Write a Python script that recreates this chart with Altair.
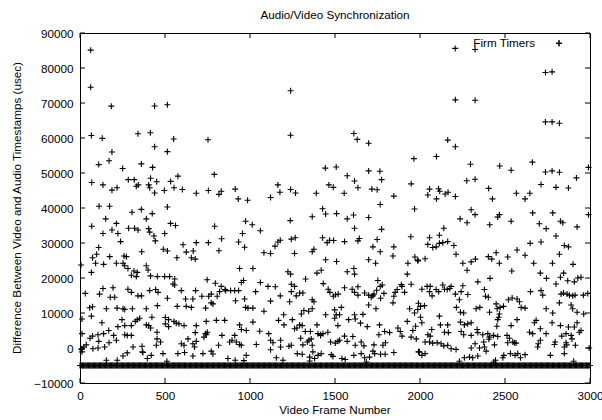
import altair as alt
import pandas as pd

# ---------------- data ----------------
# scattered points, frame 0-1000
frames_1 = [63, 63, 184, 439, 514, 67, 131, 341, 414, 551, 753, 439, 188, 514, 110, 171, 251, 361, 427, 790,
            69, 135, 188, 218, 284, 319, 331, 343, 404, 410, 415, 439, 451, 496, 533, 553, 576, 602, 684, 755,
            817, 831, 913, 931,
            112, 174, 306, 514, 361, 390, 425, 151, 986, 69, 214, 188, 223, 135, 286, 321, 341, 404, 410, 435,
            443, 498, 533, 562, 792, 974, 956, 239, 110, 606, 684, 755, 833, 817, 933, 968, 666, 625, 490, 514,
            363, 74, 98, 175, 259, 273, 570, 655, 678, 6, 67, 92, 139, 214, 253, 282, 263, 302, 317, 337, 331,
            390, 400, 415, 455, 498, 527, 557, 547, 557, 939, 748, 796, 831, 853, 886, 910, 933, 949, 962, 31,
            135, 115, 194, 204, 178, 282, 302, 341, 361, 410, 445, 459, 596, 680, 621, 664, 717, 757, 772, 782,
            807, 821, 857, 915, 968, 74, 57, 67, 155, 218, 253, 263, 308, 390, 514, 455, 572, 625, 655, 739,
            772, 988, 974, 12, 129, 247, 325, 337, 351, 423, 404, 390, 415, 223, 263, 302, 263, 278, 302, 198,
            169, 106, 74, 59, 12, 110, 139, 171, 37, 22, 12, 12, 76, 106, 145, 214, 312, 365, 367, 453, 449,
            474, 502, 521, 553, 566, 582, 612, 502, 521, 453, 684, 743, 802, 851, 939, 949, 978, 739, 678, 635,
            596, 612, 664, 684, 729, 743, 835, 749, 880, 894, 919, 939, 910, 949, 815, 772, 782, 674, 615, 576,
            488, 419, 396, 370, 278, 253, 664, 723, 219, 155, 511, 870, 913, 964, 978, 8]
diffs_1 = [85100, 74500, 69100, 69150, 69500, 60700, 59900, 61200, 61500, 59700, 59500, 57500, 56000, 56100,
           52400, 53500, 51300, 52600, 51600, 49600, 47300, 46600, 45100, 45800, 48100, 48100, 46200, 46600,
           46600, 45800, 48500, 44300, 47500, 45000, 47600, 45800, 49100, 45300, 44200, 45000, 43900, 44800,
           45400, 42600,
           40500, 40500, 38800, 40300, 39600, 36900, 38400, 36900, 42200, 34800, 35600, 33700, 32700, 32700,
           34200, 34200, 33700, 34100, 33100, 32000, 30600, 32700, 35600, 35000, 34800, 36200, 32700, 30400,
           28700, 29500, 30100, 30100, 31200, 27800, 30300, 28800, 27700, 27400, 28200, 27700, 27500, 25800,
           26800, 26100, 26300, 26100, 25800, 25800, 25400, 23700, 21600, 24200, 23900, 24200, 24200, 22700,
           23500, 20800, 22000, 21600, 20400, 23500, 22300, 20600, 20400, 20400, 20400, 19700, 18300, 18000,
           22700, 19500, 18500, 17600, 16700, 16400, 16400, 16400, 18700, 19300, 15600, 17000, 15400, 17200,
           14500, 14500, 16800, 15900, 14900, 14900, 16400, 16700, 15900, 16400, 16400, 14000, 14000, 14800,
           14800, 15400, 12600, 14800, 16100, 16400, 13500, 14000, 11800, 11500, 9100, 11200, 11400, 11200,
           11000, 11200, 11200, 14200, 12100, 11900, 11900, 11600, 11400, 12900, 11400, 11600, 8300, 7200,
           8100, 7600, 8100, 8500, 8800, 6400, 6600, 5700, 6100, 6400, 6400, 3800, 3600, 3600, 3600, 5000,
           3800, 3400, 2800, 4100, 1900, 4100, 1500, 900, 300, -200, -1100, -200, 0, 300, 2200, 300, 500,
           -1100, 2600, 800, 1700, 8700, 8100, 7600, 7100, 6900, 6400, 6900, 6100, 4500, 6400, 7600, 7900,
           7900, 6600, 5300, 5000, 4100, 4400, 2600, 1200, 800, 1200, 1900, 3100, 3800, 3600, 4500, 1700,
           2200, 1700, 1000, 3600, 800, 800, -900, -1700, 300, -1300, -1600, -1600, -2100, -3000, -1300,
           -1400, -2300, -2300, -1600, -3500, -3500, -3800, -3000, -3500, -3600, -2100, -400]

# scattered points, frame 1000-2000
frames_2 = [1239, 1239, 1611, 1631, 1698, 1964, 1443, 1507, 1572, 1615, 1698, 1764, 1774, 1635, 1717, 1748,
            1948, 1164, 1176, 1239, 1268, 1390, 1464, 1490, 1554, 1846, 1121,
            1766, 1968, 1427, 1445, 1366, 1509, 1572, 1609, 1698, 1237, 1013, 1061, 1615, 1774, 1946, 1147,
            1164, 1178, 1243, 1266, 1427, 1454, 1468, 1492, 1556, 1635, 1643, 1748, 1723, 1766, 1846, 1841,
            1082, 1121, 1262, 1366, 1376, 1445, 1509, 1698, 1739, 1970, 1988, 1929, 1017, 1223, 1239, 1394,
            1419, 1572, 1611, 1615, 1925, 1061, 1033, 1106, 1149, 1178, 1121, 1243, 1262, 1243, 1272, 1292,
            1311, 1327, 1233, 1366, 1376, 1431, 1460, 1470, 1490, 1503, 1519, 1556, 1601, 1615, 1635, 1635,
            1674, 1698, 1713, 1723, 1729, 1745, 1752, 1766, 1778, 1768, 1788, 1846, 1854, 1866, 1890, 1894,
            1909, 1948, 1841, 1991, 1698, 1741, 1537, 1498, 1366, 1345, 1317, 1302, 1017, 1082, 1198, 1168,
            1017, 1445, 1507, 1527, 1498, 1580, 1615, 1619, 1664, 1650, 1690, 1762, 1792, 1821, 1870, 1884,
            1894, 1925, 1939, 1968, 1974, 1958, 1948, 1978, 1991, 1200, 1249, 1262, 1276, 1292, 1307, 1325,
            1355, 1394, 1360, 1400, 1415, 1429, 1474, 1458, 1517, 1556, 1572, 1605, 1619, 1654, 1670, 1729,
            1758, 1782, 1797, 1846, 1110, 1057, 1037, 1121, 1135, 1121, 1180, 1180, 1229, 1243, 1298, 1311,
            1337, 1347, 1366, 1415, 1419, 1400, 1370, 1278, 1307, 1351, 1351, 1380, 1478, 1488, 1502, 1517,
            1527, 1541, 1560, 1611, 1654, 1674, 1684, 1703, 1723, 1733, 1768, 1795, 1155, 1194]
diffs_2 = [73500, 60800, 61300, 59600, 58500, 54100, 51400, 51700, 49200, 47700, 50600, 50500, 48100, 45800,
           45400, 45200, 46900, 46600, 44500, 45300, 44300, 44200, 46600, 45900, 44200, 43400, 43000,
           41000, 39700, 39800, 38300, 37500, 38400, 36900, 38000, 37300, 36400, 35200, 33500, 34200, 33900,
           31800, 29100, 30300, 30800, 31100, 31500, 31500, 30100, 30800, 30700, 30400, 30600, 31300, 31000,
           28900, 27500, 28900, 26300, 27200, 27000, 27000, 27500, 28200, 25200, 24700, 25200, 24200, 26000,
           24900, 24200, 22700, 21800, 21100, 21400, 22200, 21800, 22700, 21100, 21100, 18700, 16100, 17600,
           17500, 14900, 13400, 18200, 17600, 16100, 14900, 15700, 15700, 19700, 13200, 13800, 13200, 18400,
           16800, 15900, 14800, 15200, 15400, 17200, 16800, 15900, 17500, 15100, 15700, 15100, 14500, 14900,
           15400, 16500, 19300, 17600, 18000, 14200, 15600, 14800, 15900, 16700, 18100, 17600, 15900, 18200,
           12900, 12800, 12300, 11200, 11600, 10900, 11200, 10500, 10700, 9700, 11400, 10500, 9500, 7900,
           7400, 9500, 9500, 9500, 8500, 8100, 9500, 8300, 9600, 7100, 6100, 6600, 4700, 4400, 5700, 4700,
           3400, 7600, 11200, 10000, 6200, 5000, 3100, 2600, -1100, 6600, 8100, 5500, 5700, 6600, 6400, 4700,
           4700, 6600, 2600, 4100, 3800, 4100, 1700, 4500, 6400, 3400, 1900, 3300, 800, 1700, 600, 900,
           3800, 800, 1500, -1300, 4100, 4800, 1000, 2200, 1500, -500, 2200, 300, 500, 800, 2800, 900,
           1700, 2200, 800, 3600, -1600, -2100, -1100, -1600, -1800, -2600, -3700, -3000, -1900, -2400, 1400,
           1900, 2200, -3000, -3300, -2100, -1600, -2800, -4000, -2600, -900, -1600, -1800, -1800, -2800,
           -3500]

# scattered points, frame 2000-3000
frames_3 = [2207, 2324, 2818, 2738, 2777, 2208, 2324, 2738, 2777, 2820, 2163, 2208, 2097, 2297, 2469, 2536,
            2661, 2738, 2777, 2820, 2991, 2920, 2275, 2324, 2712, 2800, 2873, 2056, 2109, 2116, 2148, 2165,
            2046, 2097, 2208, 2404, 2426, 2567, 2618, 2646,
            2301, 2324, 2236, 2277, 2467, 2457, 2410, 2536, 2663, 2781, 2826, 2840, 2924, 2702, 2742, 2800,
            2991, 2140, 2056, 2114, 2046, 2075, 2095, 2114, 2134, 2163, 2199, 2212, 1987, 2030, 2252, 2277,
            2301, 2326, 2402, 2422, 2448, 2467, 2516, 2540, 2571, 2618, 2648, 2712, 2669, 2708, 2744, 2779,
            2820, 2849, 2873, 2900, 2845, 2826, 2800, 2869, 2908, 2928, 2947, 2011, 2042, 2060, 2056, 2071,
            2095, 2110, 2134, 2144, 2160, 2175, 2183, 2208, 2252, 2242, 2281, 2232, 2340, 2379, 2385, 2402,
            2412, 2214, 2238, 2257, 2330, 2352, 2448, 2454, 2471, 2491, 2409, 2467, 2463, 2457, 2520, 2542,
            2571, 2585, 2595, 2618, 2536, 2571, 2452, 2650, 2712, 2722, 2742, 2781, 2820, 2830, 2844, 2865,
            2879, 2898, 2912, 2961, 2987, 2889, 2898, 2924, 2963, 2924, 1987, 2003, 2026, 2003, 2011, 2114,
            2120, 2163, 2069, 2046, 2060, 2144, 2167, 2238, 2261, 2281, 2301, 2242, 2257, 2301, 2336, 2340,
            2369, 2399, 2409, 2432, 2457, 2512, 2526, 2546, 2565, 2683, 2673, 2644, 2663, 2708, 2708, 2696,
            2742, 2777, 2826, 2834, 2859, 2873, 2889, 2894, 2908, 2937, 2947, 2914, 2859, 2849, 2863, 2795,
            2791, 2849, 2767, 2692, 2030, 2056, 2075, 2101, 2124, 2140, 2163, 2183, 2212, 1997, 2030, 2011,
            2301, 2324, 2350, 2375, 2379, 2389, 2405, 2438, 2516, 2555, 2559, 2575, 2591, 2618, 2532, 2493,
            2487, 2444, 2434, 2340, 2310, 2291, 2261, 2232, 2904, 2995]
diffs_3 = [85600, 85300, 87000, 78700, 78900, 70900, 70800, 64600, 64600, 64200, 59400, 57500, 54700, 52500,
           52000, 50800, 53100, 50300, 50600, 50200, 51600, 48600, 47800, 48200, 46700, 45900, 45700, 45400,
           45500, 44800, 44000, 44500, 43700, 42600, 43300, 45600, 42600, 44200, 42600, 44200,
           39500, 38100, 36900, 35800, 38100, 37400, 35200, 36200, 38600, 38600, 36200, 35800, 34600, 35500,
           34100, 32000, 38100, 34200, 31500, 32200, 29600, 28700, 28900, 29900, 30100, 30400, 29300, 26800,
           25100, 25500, 24200, 22200, 24600, 25400, 26100, 25400, 27200, 24200, 26000, 22000, 28000, 26500,
           29900, 30300, 24200, 21400, 19900, 24200, 26800, 29300, 28900, 23900, 21400, 20200, 18300, 19200,
           18900, 20000, 20200, 16800, 17600, 17600, 16100, 14900, 16700, 16100, 18000, 16800, 16700, 17000,
           17600, 15400, 17800, 16100, 15300, 13800, 18900, 16700, 14800, 14500, 19900, 11600, 10200, 10000,
           11200, 11600, 12600, 11200, 11600, 11900, 10200, 9700, 8800, 8100, 13800, 14300, 14000, 13200,
           11600, 11400, 6400, 8100, 6200, 16100, 16400, 15100, 11200, 10000, 12900, 15400, 15700, 15400,
           15100, 14900, 15100, 15100, 15600, 12300, 11200, 10200, 9700, 7200, 11000, 11900, 12100, 8800,
           7200, 9100, 6600, 6600, 5300, 3800, 3400, 4500, 4400, 7400, 6600, 6900, 7200, 4700, 3800, 3600,
           5300, 4400, 3800, 4100, 3100, 3600, 3300, 3600, 2800, 1700, 1400, 7900, 7200, 4500, 4100, 5500,
           2200, 1200, 4100, 7200, 6400, 3400, 4100, 6000, 3600, 2600, 6000, 4500, 5000, 800, 1500, 300,
           900, 1700, 1000, -1600, -2100, 300, 1700, 1700, 1400, 1500, 1200, 600, 800, -200, -400, -1100,
           -1600, -2100, 0, 1200, 0, 1700, 300, -900, 2500, 900, 1500, 1500, -2100, -1600, -2800, -1900,
           -1600, -2100, -2800, -3500, -4000, -2300, -2800, -2600, -2800, -3800, -3800, 0]

# the dense row of points at the bottom (almost every frame sits at about -5000 usec)
baseline_value = -5000
baseline_frames = list(range(0, 3001, 5))

x_ticks = [0, 500, 1000, 1500, 2000, 2500, 3000]
y_ticks = [-10000, 0, 10000, 20000, 30000, 40000, 50000, 60000, 70000, 80000, 90000]

title_text = "Audio/Video Synchronization"
x_title = "Video Frame Number"
y_title = "Difference Between Video and Audio Timestamps (usec)"
legend_label = "Firm Timers"

# ---------------- chart ----------------
W, H = 510, 350
FONT = "Liberation Sans"
FS = 11.7
PLUS = "M-1,0H1M0,-1V1"

pts = pd.DataFrame({
    "frame": frames_1 + frames_2 + frames_3 + baseline_frames,
    "diff": diffs_1 + diffs_2 + diffs_3 + [baseline_value] * len(baseline_frames),
})

xs = alt.Scale(domain=[0, 3000], nice=False, zero=False)
ys = alt.Scale(domain=[-10000, 90000], nice=False, zero=False)

axis_common = dict(ticks=False, domain=False, grid=False, labelFont=FONT, labelFontSize=FS,
                   labelColor="black", format="d", labelOverlap=False, labelFlush=False, title=None)
x_axis = alt.Axis(values=x_ticks, labelPadding=7, **axis_common)
y_axis = alt.Axis(values=y_ticks, labelPadding=7, **axis_common)
X = lambda: alt.X("frame:Q", scale=xs, axis=x_axis)
Y = lambda: alt.Y("diff:Q", scale=ys, axis=y_axis)

points = alt.Chart(pts).mark_point(
    shape=PLUS, filled=False, stroke="black", strokeWidth=1.1, size=36, opacity=1, clip=False
).encode(x=X(), y=Y())

xt = pd.DataFrame({"frame": x_ticks})
yt = pd.DataFrame({"diff": y_ticks})
tick_style = dict(color="black", strokeWidth=1)
bottom_ticks = alt.Chart(xt).mark_rule(**tick_style).encode(
    x=X(), y=alt.value(H), y2=alt.value(H - 5))
top_ticks = alt.Chart(xt).mark_rule(**tick_style).encode(
    x=X(), y=alt.value(0), y2=alt.value(5))
left_ticks = alt.Chart(yt).mark_rule(**tick_style).encode(
    y=Y(), x=alt.value(0), x2=alt.value(5))
right_ticks = alt.Chart(yt).mark_rule(**tick_style).encode(
    y=Y(), x=alt.value(W), x2=alt.value(W - 5))

def label(text, x, y, angle=0, align="center"):
    return alt.Chart(pd.DataFrame({"t": [text]})).mark_text(
        font=FONT, fontSize=FS, color="black", align=align, baseline="middle", angle=angle
    ).encode(text="t:N", x=alt.value(x), y=alt.value(y))

title_mark = label(title_text, W / 2, -18)
xtitle_mark = label(x_title, W / 2, 377)
ytitle_mark = label(y_title, -63, H / 2, angle=270)
legend_text = label(legend_label, 455, 10, align="right")
legend_sym = alt.Chart(pd.DataFrame({"t": [legend_label]})).mark_point(
    shape=PLUS, filled=False, stroke="black", strokeWidth=1.1, size=36, opacity=1
).encode(x=alt.value(479), y=alt.value(10))

chart = alt.layer(
    points, bottom_ticks, top_ticks, left_ticks, right_ticks,
    title_mark, xtitle_mark, ytitle_mark, legend_text, legend_sym
).properties(
    width=W, height=H,
    autosize=alt.AutoSizeParams(type="none"),
    padding={"left": 80, "top": 33, "right": 12, "bottom": 37},
    background="white",
).configure_view(stroke="black", strokeWidth=1)

chart.save("out.html", embed_options={"renderer": "svg", "actions": False})
